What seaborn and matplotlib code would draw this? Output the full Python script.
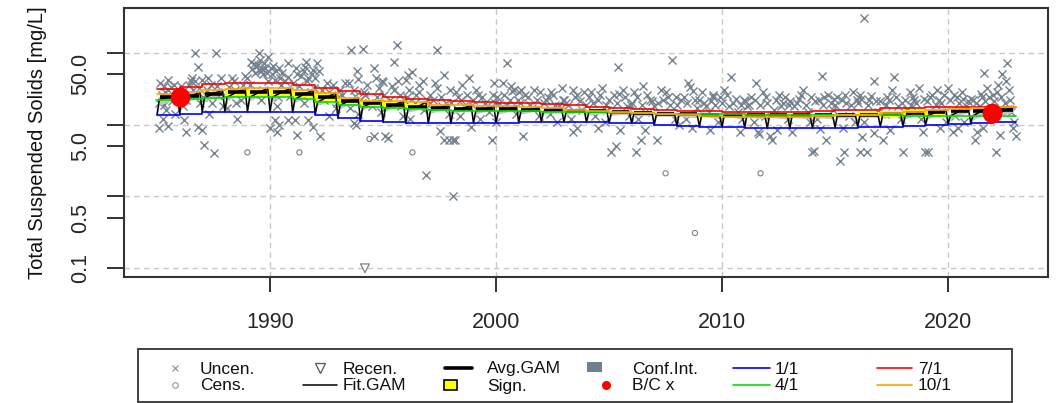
import numpy as np
import pandas as pd
import matplotlib
matplotlib.use("Agg")
import matplotlib.pyplot as plt
import seaborn as sns
from matplotlib.patches import Rectangle

sns.set_theme(style="white")
plt.rcParams["font.family"] = ["Liberation Sans", "DejaVu Sans"]

# ---------------- data ----------------
years = list(range(1985, 2023))
# seasonal GAM predictions (mg/L) per year
jan_1 = [13.7, 14.2, 15.2, 15.2, 15.2, 15.2, 14.8, 13.8, 12.3, 11.3, 10.8, 10.4, 10.4, 10.4, 10.5,
         10.6, 10.8, 10.9, 10.9, 10.8, 10.6, 10.4, 10.0, 9.6, 9.4, 9.3, 9.1, 8.9, 8.9, 8.9, 9.1,
         9.35, 9.4, 9.5, 9.9, 10.3, 10.6, 10.8]
apr_1 = [22.0, 22.5, 23.5, 24.0, 24.0, 24.0, 22.5, 20.5, 18.5, 17.5, 16.8, 16.3, 15.8, 15.5, 15.3,
         15.3, 15.3, 15.2, 15.0, 14.8, 14.6, 14.4, 14.2, 14.1, 14.0, 13.9, 13.8, 13.7, 13.6, 13.5,
         13.5, 13.4, 13.4, 13.3, 13.3, 13.2, 13.2, 13.2]
jul_1 = [31.0, 33.5, 36.5, 38.0, 38.0, 38.0, 36.0, 32.5, 29.0, 27.0, 24.5, 23.0, 22.0, 21.5, 20.5,
         20.2, 19.8, 19.5, 18.5, 17.8, 17.2, 16.6, 15.9, 15.5, 15.3, 15.2, 15.2, 15.2, 15.2, 15.3,
         15.9, 16.2, 16.8, 17.2, 17.8, 17.8, 17.8, 17.8]
oct_1 = [26.6, 28.0, 30.0, 31.5, 32.0, 32.0, 30.0, 27.5, 23.5, 21.5, 21.0, 20.5, 19.0, 18.5, 18.2,
         18.1, 17.4, 16.8, 16.2, 15.5, 15.0, 14.5, 14.0, 13.5, 13.0, 12.9, 12.9, 12.9, 12.9, 13.0,
         13.4, 13.6, 14.4, 15.0, 16.0, 16.5, 17.0, 17.3]
avg_gam = [24.0, 25.0, 27.0, 28.0, 28.0, 28.0, 26.5, 24.0, 21.5, 20.0, 19.0, 17.5, 17.0, 16.7, 16.5,
           16.3, 16.1, 16.0, 15.7, 15.4, 15.0, 14.6, 14.2, 13.9, 13.7, 13.6, 13.5, 13.4, 13.4, 13.4,
           13.6, 13.8, 14.2, 14.5, 15.0, 15.3, 15.6, 15.8]
ci_rel = [0.14, 0.13, 0.12, 0.11, 0.11, 0.11, 0.10, 0.10, 0.10, 0.09, 0.09, 0.09, 0.09, 0.08, 0.08,
          0.08, 0.08, 0.08, 0.08, 0.08, 0.08, 0.08, 0.08, 0.08, 0.08, 0.08, 0.08, 0.08, 0.08, 0.08,
          0.08, 0.08, 0.09, 0.09, 0.10, 0.11, 0.12, 0.13]
sign_periods = [(1988, 1996), (2016, 2019)]

# uncensored observations (decimal year, mg/L)
unc_year_a = [1985.1, 1985.2, 1985.3, 1985.4, 1985.5, 1985.6, 1985.7, 1985.8, 1985.1, 1985.5, 1985.5, 1985.3,
              1986.2, 1986.3, 1986.5, 1986.7, 1986.8, 1986.1, 1986.4, 1986.6, 1986.9, 1986.7, 1986.8, 1986.3,
              1987.0, 1987.0, 1987.1, 1987.5, 1987.6, 1987.2, 1987.4, 1987.7, 1987.9, 1987.3,
              1988.2, 1988.4, 1988.6, 1988.8, 1988.5, 1988.1,
              1989.5, 1989.9, 1989.2, 1989.4, 1989.6, 1989.8, 1989.5, 1989.3, 1989.7, 1989.1, 1989.4, 1989.9, 1989.6,
              1990.0, 1990.2, 1990.3, 1990.4, 1990.4, 1990.8, 1990.8, 1990.2, 1990.8, 1990.1, 1990.5, 1990.6, 1990.3,
              1991.1, 1991.2, 1991.6, 1991.2, 1991.5, 1991.7, 1991.9, 1991.7, 1991.9, 1991.3, 1991.8, 1991.5,
              1992.1, 1992.2, 1992.3, 1992.5, 1992.7, 1992.9, 1992.6,
              1993.5, 1993.6, 1993.7, 1993.8, 1993.9, 1993.2, 1993.4, 1993.7, 1993.9,
              1994.1, 1994.6, 1994.6, 1994.7, 1994.2, 1994.4, 1994.8, 1994.9,
              1995.0, 1995.1, 1995.2, 1995.5, 1995.6, 1995.5, 1995.3, 1995.8, 1995.9,
              1996.0, 1996.1, 1996.3, 1996.6, 1996.6, 1996.4, 1996.8, 1996.2, 1996.9,
              1997.4, 1997.4, 1997.5, 1997.7, 1997.7, 1997.9, 1997.2, 1997.6, 1997.9,
              1998.1, 1998.2, 1998.1, 1998.5, 1998.8, 1998.9, 1998.3, 1998.6, 1998.4,
              1999.8, 1999.9, 1999.2, 1999.5, 1999.7, 1999.3,
              2000.0, 2000.3, 2000.5, 2000.7, 2000.8, 2000.6, 2000.2, 2000.9,
              2001.0, 2001.2, 2001.1, 2001.4, 2001.7, 2001.6, 2001.9,
              2002.2, 2002.5, 2002.8, 2002.9, 2002.4, 2002.7,
              2003.4, 2003.4, 2003.6, 2003.1, 2003.8, 2003.3,
              2004.2, 2004.5, 2004.7, 2004.9, 2004.4, 2004.8,
              2005.1, 2005.3, 2005.4, 2005.5, 2005.6, 2005.2, 2005.8, 2005.9,
              2006.2, 2006.4, 2006.1, 2006.5, 2006.8, 2006.6, 2006.3,
              2007.1, 2007.8, 2007.3, 2007.6, 2007.0, 2007.9,
              2008.5, 2008.6, 2008.7, 2008.2, 2008.9, 2008.4, 2008.1,
              2009.6, 2009.6, 2009.2, 2009.4, 2009.8, 2009.1,
              2010.4, 2010.8, 2010.2, 2010.5, 2010.7, 2010.9, 2010.1,
              2011.5, 2011.6, 2011.3, 2011.8, 2011.1, 2011.9, 2011.4,
              2012.2, 2012.1, 2012.5, 2012.7, 2012.3, 2012.9,
              2013.1, 2013.5, 2013.6, 2013.3, 2013.8, 2013.9,
              2014.0, 2014.05, 2014.4, 2014.6, 2014.3, 2014.7, 2014.9, 2014.2,
              2015.2, 2015.4, 2015.1, 2015.5, 2015.8, 2015.6, 2015.9,
              2016.1, 2016.4, 2016.2, 2016.3, 2016.7, 2016.7, 2016.5, 2016.1, 2016.9, 2016.3,
              2017.1, 2017.6, 2017.3, 2017.5, 2017.8, 2017.9, 2017.2,
              2018.0, 2018.9, 2018.3, 2018.5, 2018.7, 2018.2, 2018.8,
              2019.0, 2019.1, 2019.3, 2019.5, 2019.7, 2019.4, 2019.9,
              2020.0, 2020.2, 2020.4, 2020.6, 2020.8, 2020.3, 2020.7,
              2021.2, 2021.3, 2021.6, 2021.7, 2021.5, 2021.4, 2021.9, 2021.1,
              2022.0, 2022.1, 2022.3, 2022.4, 2022.6, 2022.7, 2022.5, 2022.8, 2022.9, 2022.2,
              2023.0]
unc_val_a = [20, 26, 19, 16, 30, 33, 24, 14, 9, 9.6, 42, 34,
             11.6, 8, 40, 40, 9.3, 28, 35, 30, 20, 100, 64, 22,
             42, 8.3, 5.2, 4.0, 98, 30, 36, 26, 18, 14,
             33, 40, 28, 36, 20, 17,
             100, 88, 60, 65, 55, 62, 58, 70, 50, 35, 30, 40, 22,
             9, 11.5, 8, 10, 61, 73, 46, 42, 11.6, 50, 35, 28, 18,
             11.6, 7.2, 75, 50, 56, 45, 58, 11.6, 9.2, 34, 28, 20,
             73, 7, 30, 38, 24, 17, 13,
             38, 109, 10.5, 10, 43, 26, 21, 30, 14,
             112, 61, 7, 44, 26, 20, 32, 15,
             39, 7, 6.5, 75, 128, 30, 22, 18, 13,
             42, 49, 54, 35, 28, 20, 16, 12, 2.0,
             109, 32, 8.2, 49, 6.1, 6.1, 22, 18, 14,
             6.1, 6.1, 1.0, 35, 44, 9.4, 24, 18, 13,
             6.1, 38, 26, 20, 15, 12,
             11, 38, 72, 29, 30, 22, 17, 14,
             28, 7, 30, 24, 30, 17, 13,
             22, 26, 18, 32, 14, 11,
             8, 30, 26, 20, 16, 12,
             28, 22, 32, 16, 13, 11,
             4.1, 5, 63, 8.3, 30, 26, 18, 13,
             4.1, 6.1, 28, 34, 22, 15, 12,
             6.1, 79, 30, 24, 18, 12,
             38, 33, 29, 22, 17, 12, 10,
             24, 26, 20, 15, 11, 28,
             46, 8, 26, 20, 15, 12, 30,
             38, 8, 24, 28, 18, 13, 11,
             6.1, 7, 26, 20, 16, 12,
             8, 26, 30, 20, 15, 11,
             4.1, 4.3, 47, 6.1, 22, 26, 16, 12,
             3.1, 4.1, 24, 20, 28, 13, 11,
             4.1, 4.1, 6.8, 300, 7.6, 40, 22, 26, 15, 11,
             6.1, 46, 24, 30, 18, 12, 14,
             4.1, 8, 28, 22, 32, 16, 12,
             4.1, 4.1, 26, 30, 20, 15, 11,
             32, 8, 24, 28, 18, 13, 11,
             6.1, 8, 53, 32, 24, 18, 13, 22,
             26, 4.1, 7.2, 51, 72, 30, 20, 15, 11, 36,
             7]
unc_year_b = [1985.15, 1985.35, 1985.65, 1985.75, 1985.25,
              1986.05, 1986.15, 1986.45, 1986.55, 1986.85,
              1987.05, 1987.25, 1987.45, 1987.65, 1987.85,
              1988.0, 1988.3, 1988.45, 1988.7, 1988.9, 1988.55,
              1989.0, 1989.15, 1989.35, 1989.45, 1989.55, 1989.65, 1989.75, 1989.85, 1989.25,
              1990.05, 1990.15, 1990.25, 1990.35, 1990.45, 1990.55, 1990.65, 1990.7, 1990.9,
              1991.0, 1991.15, 1991.35, 1991.4, 1991.55, 1991.65, 1991.85, 1991.95,
              1992.0, 1992.15, 1992.4, 1992.6, 1992.8, 1992.95,
              1993.0, 1993.1, 1993.3, 1993.55, 1993.75, 1993.85,
              1994.0, 1994.15, 1994.3, 1994.5, 1994.75, 1994.95,
              1995.05, 1995.15, 1995.4, 1995.65, 1995.75, 1995.95,
              1996.05, 1996.15, 1996.45, 1996.55, 1996.75, 1996.95,
              1997.0, 1997.1, 1997.3, 1997.55, 1997.8, 1997.95,
              1998.0, 1998.25, 1998.45, 1998.7, 1998.95,
              1999.0, 1999.1, 1999.4, 1999.6, 1999.85, 1999.95,
              2000.05, 2000.15, 2000.35, 2000.5, 2000.65, 2000.95,
              2001.05, 2001.3, 2001.5, 2001.8, 2001.95,
              2002.1, 2002.3, 2002.6, 2002.95, 2002.45,
              2003.0, 2003.2, 2003.5, 2003.7, 2003.9, 2003.6,
              2004.0, 2004.1, 2004.3, 2004.6, 2004.85, 2004.5,
              2005.0, 2005.35, 2005.7, 2005.95, 2005.45,
              2006.0, 2006.25, 2006.45, 2006.7, 2006.9, 2006.6,
              2007.15, 2007.4, 2007.5, 2007.7, 2007.95,
              2008.0, 2008.3, 2008.45, 2008.8, 2008.65,
              2009.0, 2009.3, 2009.5, 2009.7, 2009.9, 2009.45,
              2010.0, 2010.3, 2010.6, 2010.85, 2010.95,
              2011.0, 2011.2, 2011.45, 2011.7, 2011.95, 2011.65,
              2012.0, 2012.4, 2012.6, 2012.8, 2012.95, 2012.45,
              2013.0, 2013.2, 2013.4, 2013.7, 2013.95,
              2014.1, 2014.45, 2014.5, 2014.8, 2014.95, 2014.35,
              2015.0, 2015.3, 2015.45, 2015.7, 2015.95, 2015.35,
              2016.0, 2016.15, 2016.45, 2016.6, 2016.8,
              2017.0, 2017.25, 2017.4, 2017.7, 2017.95, 2017.45,
              2018.1, 2018.35, 2018.45, 2018.6, 2018.95,
              2019.05, 2019.2, 2019.45, 2019.6, 2019.8, 2019.65,
              2020.1, 2020.25, 2020.5, 2020.65, 2020.9, 2020.45,
              2021.0, 2021.25, 2021.45, 2021.65, 2021.8, 2021.55,
              2022.05, 2022.15, 2022.35, 2022.55, 2022.75, 2022.85]
unc_val_b = [38, 28, 21, 36, 12,
             34, 18, 26, 45, 32,
             24, 44, 20, 34, 45,
             26, 45, 30, 22, 48, 12,
             45, 75, 52, 68, 80, 60, 72, 52, 27,
             62, 66, 56, 24, 45, 52, 40, 30, 25,
             38, 62, 48, 26, 64, 40, 50, 32,
             45, 55, 22, 28, 35, 20,
             24, 30, 38, 17, 25, 55,
             22, 28, 36, 18, 24, 40,
             26, 20, 34, 40, 26, 21,
             24, 30, 26, 18, 40, 22,
             19, 26, 38, 24, 20, 30,
             20, 28, 22, 26, 19,
             22, 30, 24, 18, 26, 20,
             24, 20, 26, 19, 34, 22,
             20, 26, 19, 22, 28,
             20, 24, 19, 22, 28,
             22, 19, 24, 21, 28, 9,
             19, 24, 20, 26, 19, 9,
             22, 20, 24, 19, 27,
             20, 24, 19, 26, 21, 8.5,
             20, 22, 28, 19, 24,
             19, 24, 20, 22, 9,
             22, 18, 21, 19, 24, 8.5,
             20, 18, 23, 19, 22,
             21, 19, 22, 19, 24, 7.5,
             20, 22, 18, 24, 19, 8.5,
             21, 18, 23, 19, 24,
             21, 19, 24, 20, 23, 8.8,
             19, 22, 26, 19, 22, 9,
             20, 23, 19, 25, 21,
             21, 19, 22, 24, 20, 8.5,
             22, 19, 24, 20, 23,
             21, 24, 19, 22, 26, 9,
             22, 26, 20, 23, 21, 9,
             23, 20, 27, 21, 24, 9,
             21, 28, 24, 40, 22, 9]
# censored observations
cens_year = [1989.0, 1991.3, 1994.4, 1996.3, 2007.5, 2008.8, 2011.7]
cens_val = [4.1, 4.1, 6.3, 4.1, 2.1, 0.31, 2.1]
# recensored observations
recens_year = [1994.2]
recens_val = [0.1]
# B/C x points
bc_year = [1986.0, 2021.93]
bc_val = [24.0, 14.4]

# ---------------- figure ----------------
W, H = 1064, 403
fig = plt.figure(figsize=(W / 100, H / 100), dpi=100)
fig.patch.set_facecolor("white")
ax = fig.add_axes([124 / W, 1 - 277 / H, (1048 - 124) / W, (277 - 8) / H])
ax.set_yscale("log")
ax.set_xlim(1983.54, 2024.42)
ax.set_ylim(0.0757, 419)

# grid
for gx in [1990, 2000, 2010, 2020]:
    ax.axvline(gx, color="#c8c8c8", lw=1, ls=(0, (4, 3)), zorder=0)
for gy in [0.1, 1, 10, 100]:
    ax.axhline(gy, color="#c8c8c8", lw=1, ls=(0, (4, 3)), zorder=0)

# observations
obs = pd.DataFrame({"year": unc_year_a + unc_year_b, "val": unc_val_a + unc_val_b})
sns.scatterplot(data=obs, x="year", y="val", marker="x", color="#74828f", s=34, linewidth=1.0,
                ax=ax, zorder=2)
ax.scatter(cens_year, cens_val, marker="o", s=14, facecolors="none", edgecolors="#808080",
           linewidths=0.8, zorder=2)
ax.scatter(recens_year, recens_val, marker="v", s=40, facecolors="none", edgecolors="#808080",
           linewidths=0.9, zorder=2)

# fitted GAM (seasonal pattern built from the seasonal predictions)
fit_t, fit_v, fit_w = [], [], []
for i, yr in enumerate(years):
    for off, arr in [(0.0, jan_1), (0.1, apr_1), (0.5, avg_gam), (0.9, oct_1)]:
        fit_t.append(yr + off)
        fit_v.append(arr[i])
        fit_w.append(ci_rel[i])
fit = pd.DataFrame({"t": fit_t, "v": fit_v, "w": fit_w})
ax.fill_between(fit["t"], fit["v"] * (1 - fit["w"]), fit["v"] * (1 + fit["w"]),
                color="#c4c4c4", lw=0, zorder=3)

# significant periods (yellow band around annual average)
yr_arr = np.array(years)
avg_arr = np.array(avg_gam)
ci_arr = np.array(ci_rel)
for a, b in sign_periods:
    m = (yr_arr >= a) & (yr_arr <= b)
    tt = np.append(yr_arr[m], b + 1)
    lo = np.append(avg_arr[m] * (1 - ci_arr[m]), avg_arr[m][-1] * (1 - ci_arr[m][-1]))
    hi = np.append(avg_arr[m] * (1 + ci_arr[m]), avg_arr[m][-1] * (1 + ci_arr[m][-1]))
    ax.fill_between(tt, lo, hi, step="post", color="#ffff00", lw=0, zorder=3.5)

sns.lineplot(data=fit, x="t", y="v", color="black", lw=1.1, estimator=None, sort=False, ax=ax, zorder=4)

# annual averages
for yr, v in zip(years, avg_gam):
    ax.plot([yr + 0.12, yr + 0.88], [v, v], color="black", lw=2.6, solid_capstyle="butt", zorder=5)

# seasonal step lines
step_t = years + [2023]
for arr, col in [(jan_1, "#0000ff"), (apr_1, "#00e000"), (jul_1, "#ff0000"), (oct_1, "#ffa500")]:
    sns.lineplot(x=step_t, y=arr + [arr[-1]], drawstyle="steps-post", color=col, lw=1.2,
                 estimator=None, sort=False, ax=ax, zorder=6)

# B/C x points
ax.scatter(bc_year, bc_val, s=200, color="#ff0000", linewidths=0, zorder=7)

# axes styling
ax.set_xticks([1990, 2000, 2010, 2020])
ax.set_xticklabels(["1990", "2000", "2010", "2020"])
ax.set_yticks([0.1, 0.5, 1, 5, 10, 50, 100])
ax.set_yticklabels(["0.1", "0.5", "", "5.0", "", "50.0", ""])
ax.minorticks_off()
ax.tick_params(axis="x", direction="out", length=11, width=1.3, color="#222222", pad=14,
               labelsize=15.5, bottom=True)
ax.tick_params(axis="y", direction="out", length=12.5, width=1.3, color="#222222", pad=11,
               labelsize=15.5, left=True)
for lbl in ax.get_yticklabels():
    lbl.set_rotation(90)
    lbl.set_va("center")
for sp in ax.spines.values():
    sp.set_color("#333333")
    sp.set_linewidth(1.5)
ax.set_xlabel("")
ax.set_ylabel("Total Suspended Solids [mg/L]", fontsize=14.5, color="#111111")
ax.yaxis.set_label_coords((47 - 124) / 924, 0.5)
ax.set_facecolor("white")

# ---------------- legend (drawn in pixel space below the plot) ----------------
lg = fig.add_axes([0, 0, 1, 1])
lg.set_xlim(0, W)
lg.set_ylim(H, 0)
lg.axis("off")
lg.patch.set_alpha(0)
lg.add_patch(Rectangle((138, 348.5), 1012 - 138, 401.5 - 348.5, fill=False, edgecolor="#333333", lw=1.3))
r1, r2 = 367.5, 384.5
fs = 12.5
tcol = "#111111"
lg.plot([175], [r1], marker="x", ms=5, mew=0.9, color="#8a9aa8", ls="none")
lg.plot([175], [r2], marker="o", ms=4, mew=0.8, mfc="none", mec="#8a9aa8", ls="none")
lg.plot([320], [r1], marker="v", ms=7, mew=0.9, mfc="none", mec="#555555", ls="none")
lg.plot([303, 337], [r2, r2], color="black", lw=1.1)
lg.plot([445, 472], [r1, r1], color="black", lw=2.6)
lg.add_patch(Rectangle((444, 379.5), 13, 10, facecolor="#ffff00", edgecolor="black", lw=1.2))
lg.add_patch(Rectangle((587, 362), 15, 10, facecolor="#708090", edgecolor="none"))
lg.plot([606], [r2], marker="o", ms=6.5, color="#ff0000", mew=0, ls="none")
lg.plot([733, 770], [r1, r1], color="#0000ff", lw=1.2)
lg.plot([733, 770], [r2, r2], color="#00e000", lw=1.2)
lg.plot([877, 912], [r1, r1], color="#ff0000", lw=1.2)
lg.plot([877, 912], [r2, r2], color="#ffa500", lw=1.2)
for x, y, s in [(200, r1, "Uncen."), (200, r2, "Cens."), (343, r1, "Recen."), (343, r2, "Fit.GAM"),
                (487, r1, "Avg.GAM"), (487, r2, "Sign."), (632, r1, "Conf.Int."), (632, r2, "B/C x"),
                (775, r1, "1/1"), (775, r2, "4/1"), (918, r1, "7/1"), (918, r2, "10/1")]:
    lg.text(x, y, s, fontsize=fs, color=tcol, ha="left", va="center_baseline")

fig.savefig("out.png", dpi=100, facecolor="white")
